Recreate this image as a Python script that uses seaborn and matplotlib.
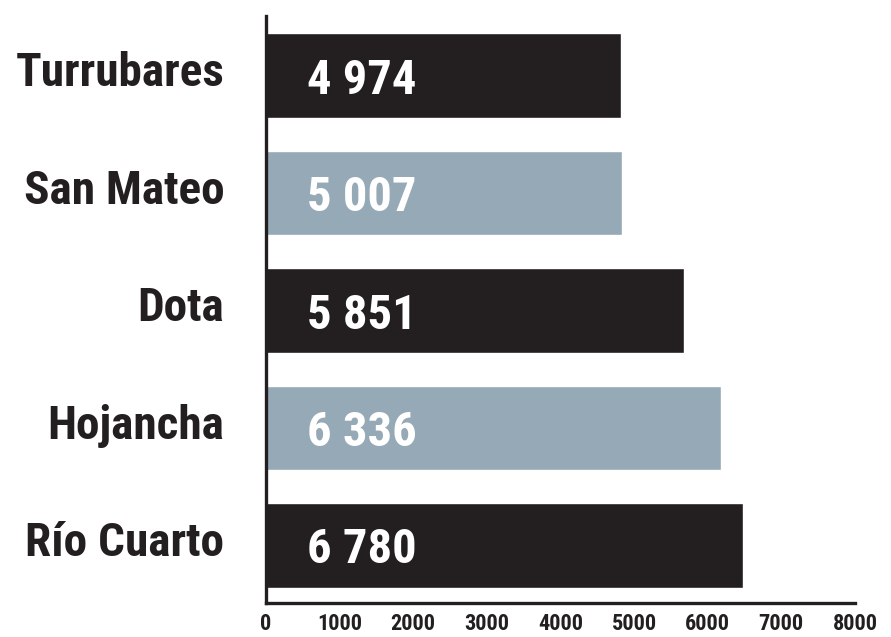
import matplotlib.pyplot as plt
import matplotlib.transforms as mtrans
import seaborn as sns
import pandas as pd

cantones = ['Turrubares', 'San Mateo', 'Dota', 'Hojancha', 'Río Cuarto']
# bar lengths as drawn in the picture
valores = [4820, 4835, 5675, 6180, 6480]
etiquetas = ['4 974', '5 007', '5 851', '6 336', '6 780']
colores = ['#231f20', '#95aab6', '#231f20', '#95aab6', '#231f20']
ticks = [0, 1000, 2000, 3000, 4000, 5000, 6000, 7000, 8000]

sns.set_style('white')
plt.rcParams['font.family'] = ['Roboto Condensed', 'DejaVu Sans']
plt.rcParams['font.weight'] = 'bold'

df = pd.DataFrame({'canton': cantones, 'valor': valores})

fig = plt.figure(figsize=(8.91, 6.37), dpi=100)
ax = fig.add_axes([0.2985, 0.0534, 0.661, 0.922])

sns.barplot(data=df, x='valor', y='canton', hue='canton', palette=colores,
            orient='h', width=0.72, legend=False, ax=ax, saturation=1)

for i, txt in enumerate(etiquetas):
    ax.text(560, i, txt, color='white', fontsize=35, fontweight='bold',
            ha='left', va='center_baseline')

ax.set_xlim(0, 8000)
ax.set_ylim(4.49, -0.51)
ax.set_xticks(ticks)
ax.set_xticklabels([str(t) for t in ticks], fontsize=16, fontweight='bold')
ax.set_xlabel('')
ax.set_ylabel('')
ax.tick_params(axis='x', direction='in', length=9.5, width=2.2, color='#231f20',
               pad=7, labelcolor='#231f20')
ax.tick_params(axis='y', length=0, pad=30, labelsize=34, labelcolor='#231f20')
shift = mtrans.ScaledTranslation(0, 5 / 72, fig.dpi_scale_trans)
for lab in ax.get_yticklabels():
    lab.set_fontweight('bold')
    lab.set_transform(lab.get_transform() + shift)

sns.despine(ax=ax, top=True, right=True)
for s in ['left', 'bottom']:
    ax.spines[s].set_linewidth(2.4)
    ax.spines[s].set_color('#231f20')

plt.savefig('out.png', dpi=100)
